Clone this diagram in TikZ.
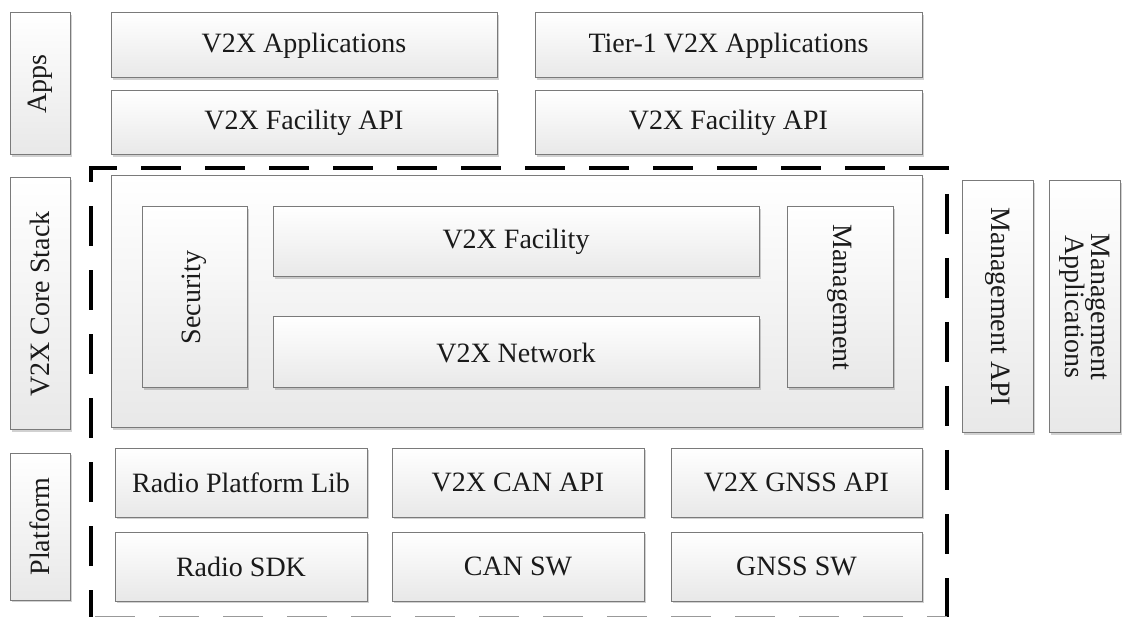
\documentclass[tikz,border=0pt]{standalone}
\usepackage{fontspec}
\setmainfont{Liberation Serif}
\usepackage{graphicx}
\usetikzlibrary{shadows}
\definecolor{edge}{HTML}{7A7A7A}
\definecolor{txt}{HTML}{1A1A1A}
\tikzset{
  box/.style={draw=edge, line width=1pt, top color=white, bottom color=black!9,
    inner sep=0pt, outer sep=0pt, text=txt,
    font=\fontsize{28}{31}\selectfont,
    drop shadow={shadow xshift=2pt, shadow yshift=-2pt, opacity=0.18, fill=black}},
  dashline/.style={line width=4.5pt, black, dash pattern=on 40pt off 24pt}
}
\newcommand\blk[6]{%
  \node[box, minimum width={(#4-#2)*1pt}, minimum height={(#5-#3)*1pt}]
    (#1) at ({(#2+#4)/2},{(#3+#5)/2}) {#6};}
\begin{document}
\begin{tikzpicture}[x=1pt,y=-1pt]
\useasboundingbox (0,0) rectangle (1122,617);
\fill[white] (0,0) rectangle (1122,617);
% side labels
\blk{apps}{10}{13}{70}{155}{\rotatebox{90}{Apps}}
\blk{core}{10}{178}{70}{430}{\rotatebox{90}{V2X Core Stack}}
\blk{plat}{10}{453}{70}{600}{\rotatebox{90}{Platform}}
% apps
\blk{v2xapp}{111}{13}{497}{78}{V2X Applications}
\blk{tierapp}{535}{13}{922}{78}{Tier-1 V2X Applications}
\blk{facapiL}{111}{91}{497}{155}{V2X Facility API}
\blk{facapiR}{535}{91}{922}{155}{V2X Facility API}
% core stack
\blk{corebox}{111}{176}{922}{428}{}
\blk{sec}{142}{207}{247}{388}{\rotatebox{90}{Security}}
\blk{fac}{273}{207}{759}{277}{V2X Facility}
\blk{net}{273}{317}{759}{388}{V2X Network}
\blk{mgmt}{787}{207}{893}{388}{\rotatebox{-90}{Management}}
% management
\blk{mgmtapi}{962}{181}{1033}{433}{\rotatebox{-90}{Management API}}
\blk{mgmtapps}{1049}{181}{1120}{433}{\rotatebox{-90}{\begin{tabular}{@{}c@{}}Management\\[-5pt]Applications\end{tabular}}}
% platform
\blk{rpl}{115}{448}{367}{517}{Radio Platform Lib}
\blk{canapi}{392}{448}{644}{517}{V2X CAN API}
\blk{gnssapi}{671}{448}{922}{517}{V2X GNSS API}
\blk{rsdk}{115}{532}{367}{601}{Radio SDK}
\blk{cansw}{392}{532}{644}{601}{CAN SW}
\blk{gnsssw}{671}{532}{922}{601}{GNSS SW}
% dashed boundary
\begin{scope}
\clip (0,0) rectangle (1122,617);
\draw[dashline] (91,630) -- (91,168) -- (947,168) -- (947,630);
\draw[dashline, black!40] (95,618) -- (947,618);
\end{scope}
\end{tikzpicture}
\end{document}
